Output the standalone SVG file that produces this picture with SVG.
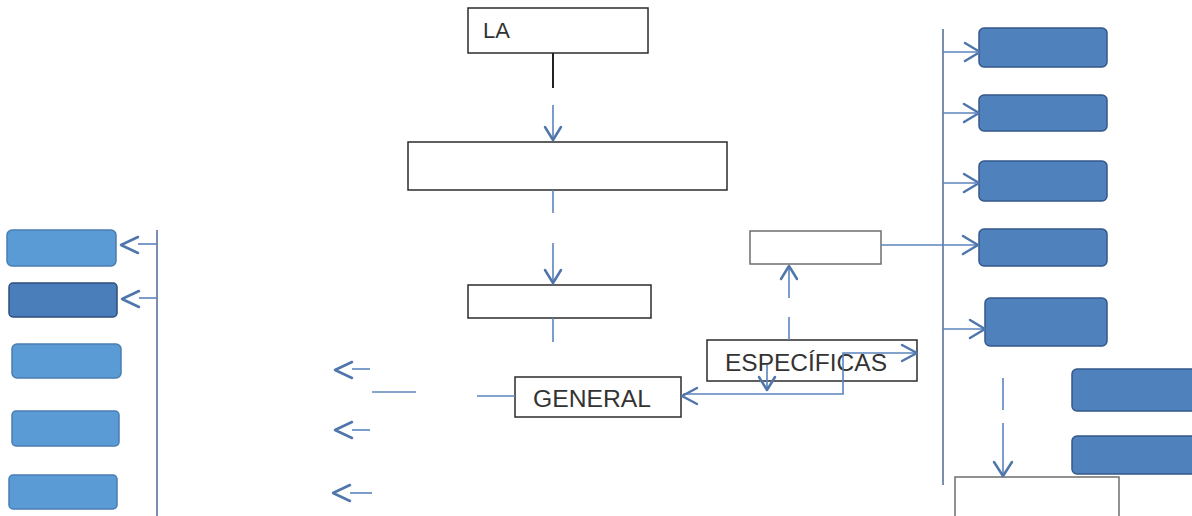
<svg xmlns="http://www.w3.org/2000/svg" width="1192" height="516" viewBox="0 0 1192 516">
<style>
.wbox{fill:#ffffff;stroke:#2b2b2b;stroke-width:1.5}
.gbox{fill:#ffffff;stroke:#6e6e6e;stroke-width:1.5}
.lbox{fill:#5b9bd5;stroke:#4a7db0;stroke-width:1.5}
.dbox{fill:#4a7ebb;stroke:#2f4f7a;stroke-width:1.5}
.rbox{fill:#4f81bd;stroke:#35588a;stroke-width:1.5}
.ln{stroke:#5b84bd;stroke-width:1.6;fill:none}
.chev{stroke:#4f76ab;stroke-width:2.5;fill:none;stroke-linecap:round;stroke-linejoin:round}
.vl{stroke:#7b8eb0;stroke-width:2;fill:none}
.txt{font-family:"Liberation Sans",Arial,sans-serif;fill:#333333}
</style>
<rect width="1192" height="516" fill="#ffffff"/>
<g id="n-la"><rect class="wbox" x="468" y="8" width="180" height="45"/><text class="txt" x="483" y="38" font-size="22">LA</text></g>
<g id="n-box2"><rect class="wbox" x="408" y="142" width="319" height="48"/></g>
<g id="n-box3"><rect class="wbox" x="468" y="285" width="183" height="33"/></g>
<g id="n-general"><rect class="wbox" x="515" y="377" width="166" height="40"/><text class="txt" x="533" y="407" font-size="23" textLength="118" lengthAdjust="spacingAndGlyphs">GENERAL</text></g>
<g id="n-especificas"><rect class="wbox" x="707" y="340" width="210" height="41"/><text class="txt" x="725" y="371" font-size="24" textLength="162" lengthAdjust="spacingAndGlyphs">ESPECÍFICAS</text></g>
<g id="n-small"><rect class="gbox" x="750" y="231" width="131" height="33"/></g>
<g id="n-bottom"><rect class="gbox" x="955" y="477" width="164" height="50"/></g>
<g id="n-l1"><rect class="lbox" x="7" y="230" width="109" height="36" rx="5"/></g>
<g id="n-l2"><rect class="dbox" x="9" y="283" width="108" height="34" rx="4"/></g>
<g id="n-l3"><rect class="lbox" x="12" y="344" width="109" height="34" rx="5"/></g>
<g id="n-l4"><rect class="lbox" x="12" y="411" width="107" height="35" rx="4"/></g>
<g id="n-l5"><rect class="lbox" x="9" y="475" width="108" height="34" rx="4"/></g>
<g id="n-r1"><rect class="rbox" x="979" y="28" width="128" height="39" rx="5"/></g>
<g id="n-r2"><rect class="rbox" x="979" y="95" width="128" height="36" rx="5"/></g>
<g id="n-r3"><rect class="rbox" x="979" y="161" width="128" height="40" rx="5"/></g>
<g id="n-r4"><rect class="rbox" x="979" y="229" width="128" height="37" rx="5"/></g>
<g id="n-r5"><rect class="rbox" x="985" y="298" width="122" height="48" rx="5"/></g>
<g id="n-r6"><rect class="rbox" x="1072" y="369" width="130" height="42" rx="5"/></g>
<g id="n-r7"><rect class="rbox" x="1072" y="436" width="130" height="38" rx="5"/></g>
<g id="connectors">
  <line x1="553" y1="53" x2="553" y2="88" stroke="#222" stroke-width="2"/>
  <line class="ln" x1="553" y1="105" x2="553" y2="139"/>
  <path class="chev" d="M545,127 L553,140 L561,127"/>
  <line class="ln" x1="553" y1="190" x2="553" y2="213"/>
  <line class="ln" x1="553" y1="243" x2="553" y2="282"/>
  <path class="chev" d="M545,270 L553,283 L561,270"/>
  <line class="ln" x1="553" y1="318" x2="553" y2="342"/>
  <line class="ln" x1="477" y1="396" x2="515" y2="396"/>
  <line class="ln" x1="372" y1="392" x2="416" y2="392"/>
  <line class="ln" x1="352" y1="369" x2="370" y2="369"/>
  <path class="chev" d="M352,362 L335,370 L352,378"/>
  <line class="ln" x1="352" y1="430" x2="370" y2="430"/>
  <path class="chev" d="M352,422 L335,430 L352,438"/>
  <line class="ln" x1="350" y1="493" x2="372" y2="493"/>
  <path class="chev" d="M350,485 L333,493 L350,501"/>
  <line class="vl" x1="157" y1="230" x2="157" y2="516"/>
  <line class="ln" x1="138" y1="244" x2="157" y2="244"/>
  <path class="chev" d="M138,237 L121,245 L138,253"/>
  <line class="ln" x1="139" y1="298" x2="157" y2="298"/>
  <path class="chev" d="M139,291 L122,299 L139,307"/>
  <line class="ln" x1="789" y1="268" x2="789" y2="298"/>
  <line class="ln" x1="789" y1="317" x2="789" y2="340"/>
  <path class="chev" d="M781,279 L789,266 L797,279"/>
  <polyline class="ln" points="915,353 843,353 843,394 683,394"/>
  <path class="chev" d="M697,388 L682,396 L697,404"/>
  <line class="ln" x1="767" y1="365" x2="767" y2="389"/>
  <path class="chev" d="M759,377 L767,390 L775,377"/>
  <path class="chev" d="M902,345 L917,353 L902,361"/>
  <line class="vl" x1="943" y1="29" x2="943" y2="485"/>
  <line class="ln" x1="881" y1="245" x2="976" y2="245"/>
  <path class="chev" d="M963,236 L978,245 L963,254"/>
  <line class="ln" x1="943" y1="52" x2="977" y2="52"/>
  <path class="chev" d="M965,43 L980,52 L965,61"/>
  <line class="ln" x1="943" y1="113" x2="976" y2="113"/>
  <path class="chev" d="M964,104 L979,113 L964,122"/>
  <line class="ln" x1="943" y1="183" x2="976" y2="183"/>
  <path class="chev" d="M964,174 L979,183 L964,192"/>
  <line class="ln" x1="943" y1="329" x2="983" y2="329"/>
  <path class="chev" d="M970,320 L985,329 L970,338"/>
  <line class="ln" x1="1003" y1="378" x2="1003" y2="410"/>
  <line class="ln" x1="1003" y1="423" x2="1003" y2="474"/>
  <path class="chev" d="M994,462 L1003,476 L1012,462"/>
</g>
</svg>
